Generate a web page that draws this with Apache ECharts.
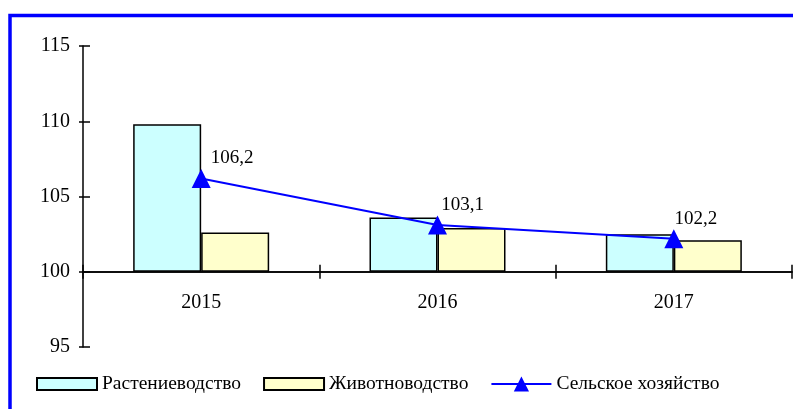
<!DOCTYPE html>
<html><head><meta charset="utf-8">
<script src="https://cdn.jsdelivr.net/npm/echarts@6/dist/echarts.min.js"></script>
<style>html,body{margin:0;padding:0;background:#fff}#c{width:793px;height:409px}</style>
</head><body><div id="c"></div>
<script>
var categories = ['2015', '2016', '2017'];
var seriesNames = ['Растениеводство', 'Животноводство', 'Сельское хозяйство'];
var rastenievodstvo = [109.8, 103.6, 102.5];
var zhivotnovodstvo = [102.6, 102.9, 102.1];
var selskoe = [106.2, 103.1, 102.2];
var yTicks = [95, 100, 105, 110, 115];
var baseValue = 100;

// style-only: per-point label nudges
var labelOffsets = [[31, -20], [25, -20], [22, -20]];

var FONT = 'Liberation Serif';
function shift(arr){ return arr.map(function(v){ return +(v - baseValue).toFixed(2); }); }
function fmt(v){ return String(v).replace('.', ','); }

// legend swatch: 60x12 box inside a 60x19 legend cell
var swatchIcon = 'path://M0,0M0,19M0,3.5L60,3.5L60,15.5L0,15.5Z';

var chart = echarts.init(document.getElementById('c'), null, {renderer:'canvas'});
var yMin = yTicks[0] - baseValue, yMax = yTicks[yTicks.length-1] - baseValue;
chart.setOption({
  animation: false,
  textStyle: {fontFamily: FONT, color: '#000'},
  graphic: [{type:'rect', shape:{x:10, y:15.5, width:820, height:430}, style:{fill:'none', stroke:'#0000FF', lineWidth:3.5}, silent:true, z:100}],
  grid: {left: 83, right: 1, top: 46, bottom: 62, containLabel: false},
  legend: {
    left: 36, top: 373.5, padding: 0, itemWidth: 60, itemHeight: 19, itemGap: 22,
    textStyle: {fontFamily: FONT, fontSize: 19.5, color: '#000'},
    data: [
      {name: seriesNames[0], icon: swatchIcon},
      {name: seriesNames[1], icon: swatchIcon},
      {name: seriesNames[2]}
    ]
  },
  xAxis: [{
    type: 'category', data: categories,
    axisLine: {onZero: true, lineStyle: {color: '#000', width: 1.5}},
    axisTick: {show: true, length: 7, lineStyle: {color: '#000', width: 1.5}},
    axisLabel: {fontFamily: FONT, fontSize: 20, color: '#000', margin: -54}
  },{
    type: 'category', data: categories, position: 'bottom',
    axisLine: {onZero: true, show: true, lineStyle: {color: '#000', width: 1.5}},
    axisTick: {show: true, inside: true, length: 7, lineStyle: {color: '#000', width: 1.5}},
    axisLabel: {show: false}
  }],
  yAxis: [{
    type: 'value', min: yMin, max: yMax, interval: 5,
    splitLine: {show: false},
    axisLine: {show: true, lineStyle: {color: '#000', width: 1.5}},
    axisTick: {show: true, length: 4, lineStyle: {color: '#000', width: 1.5}},
    axisLabel: {fontFamily: FONT, fontSize: 20, color: '#000', margin: 13,
      formatter: function(v){ return String(v + baseValue); }}
  },{
    type: 'value', min: yMin, max: yMax, interval: 5, position: 'left',
    splitLine: {show: false},
    axisLine: {show: false},
    axisTick: {show: true, inside: true, length: 7, lineStyle: {color: '#000', width: 1.5}},
    axisLabel: {show: false}
  }],
  series: [{
    name: seriesNames[0], type: 'bar', data: shift(rastenievodstvo),
    barWidth: 68, barGap: '0%',
    itemStyle: {color: '#CCFFFF', borderColor: '#000', borderWidth: 1.5}
  },{
    name: seriesNames[1], type: 'bar', data: shift(zhivotnovodstvo),
    barWidth: 68, barGap: '0%',
    itemStyle: {color: '#FFFFCC', borderColor: '#000', borderWidth: 1.5}
  },{
    name: seriesNames[2], type: 'line',
    data: shift(selskoe).map(function(v, i){ return {value: v, label: {offset: labelOffsets[i]}}; }),
    symbol: 'triangle', symbolSize: 19, z: 5,
    lineStyle: {color: '#0000FF', width: 2},
    itemStyle: {color: '#0000FF'},
    label: {show: true, position: 'inside',
      fontFamily: FONT, fontSize: 19, color: '#000',
      formatter: function(p){ return fmt(selskoe[p.dataIndex]); }}
  }]
});
</script></body></html>
